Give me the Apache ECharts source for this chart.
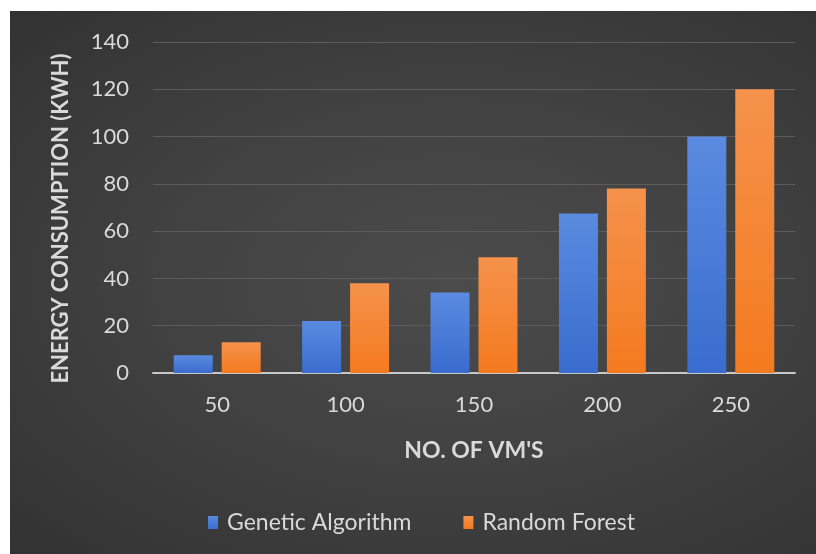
<!DOCTYPE html>
<html>
<head>
<meta charset="utf-8">
<script src="https://cdn.jsdelivr.net/npm/echarts@6/dist/echarts.min.js"></script>
<style>
  html, body { margin: 0; padding: 0; background: #ffffff; }
  #bg {
    position: absolute; left: 10px; top: 11px; width: 806px; height: 543px;
    background: radial-gradient(ellipse at 55% 50%, #4b4b4b 0%, #424242 45%, #323232 100%);
  }
  #chart { position: absolute; left: 0; top: 0; width: 816px; height: 554px; }
</style>
</head>
<body>
<div id="bg"></div>
<div id="chart"></div>
<script>
// number of VMs on the x axis
const categories = ["50", "100", "150", "200", "250"];
// energy consumption (KWH)
const geneticAlgorithm = [7.5, 22, 34, 67.5, 100];
const randomForest = [13, 38, 49, 78, 120];

const labelColor = "#d9d9d9";
const font = "Lato, 'Open Sans', sans-serif";

function grad(top, bottom) {
  return new echarts.graphic.LinearGradient(0, 0, 0, 1, [
    { offset: 0, color: top },
    { offset: 1, color: bottom },
  ]);
}

const chart = echarts.init(document.getElementById("chart"));
chart.setOption({
  backgroundColor: "transparent",
  textStyle: { fontFamily: font },
  grid: { left: 153, right: 21, top: 42, bottom: 181 },
  legend: {
    left: 203,
    top: 506,
    itemWidth: 10,
    itemHeight: 13,
    itemGap: 52,
    icon: "rect",
    textStyle: { color: labelColor, fontSize: 23, fontFamily: font, padding: [0, 0, 0, 4] },
    data: ["Genetic Algorithm", "Random Forest"],
  },
  xAxis: {
    type: "category",
    data: categories,
    name: "NO. OF VM'S",
    nameLocation: "middle",
    nameGap: 66,
    nameTextStyle: { color: labelColor, fontSize: 23, fontWeight: "bold", verticalAlign: "top" },
    axisLine: { lineStyle: { color: "#c8c8c8", width: 2 } },
    axisTick: { show: false },
    axisLabel: { color: labelColor, fontSize: 22, margin: 21 },
  },
  yAxis: {
    type: "value",
    min: 0,
    max: 140,
    interval: 20,
    name: "ENERGY CONSUMPTION (KWH)",
    nameLocation: "middle",
    nameGap: 81,
    nameTextStyle: { color: labelColor, fontSize: 22, fontWeight: "bold", padding: [0, 22, 0, 0] },
    axisLine: { show: false },
    axisTick: { show: false },
    axisLabel: { color: labelColor, fontSize: 22, margin: 24 },
    splitLine: { lineStyle: { color: "#5c5c5c", width: 1 } },
  },
  series: [
    {
      name: "Genetic Algorithm",
      type: "bar",
      data: geneticAlgorithm,
      barWidth: 39,
      barGap: "23%",
      itemStyle: { color: grad("#5a8be0", "#3a6ccf") },
    },
    {
      name: "Random Forest",
      type: "bar",
      data: randomForest,
      barWidth: 39,
      barGap: "23%",
      itemStyle: { color: grad("#f5924c", "#f47a1f") },
    },
  ],
});
</script>
</body>
</html>
